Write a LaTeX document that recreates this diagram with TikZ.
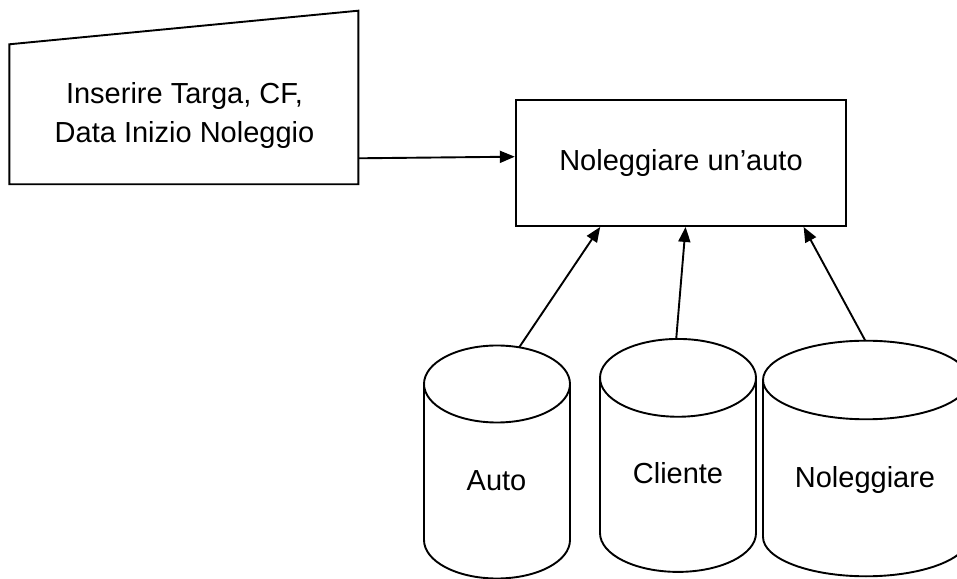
\documentclass[tikz,border=0pt]{standalone}
\usepackage{fontspec}
\setmainfont{Liberation Sans}
\usetikzlibrary{arrows.meta,calc}
\newcommand\dbcyl[5]{% cx, rx, top cy, bottom cy, ry
  \draw (#1-#2,#4) -- (#1-#2,#3) (#1+#2,#3) -- (#1+#2,#4)
    arc[start angle=0,end angle=-180,x radius=#2pt,y radius=#5pt];
  \draw (#1,#3) ellipse[x radius=#2pt,y radius=#5pt];}
\begin{document}
\begin{tikzpicture}[x=1pt,y=1pt,
  line width=1.9pt,
  lbl/.style={font=\fontsize{29}{39}\selectfont, text=black, inner sep=0pt},
  arr/.style={-{Triangle[length=15pt,width=12pt]}},
  procbox/.style={draw, minimum width=330.5pt, minimum height=126pt, lbl}]
\useasboundingbox (0,0) rectangle (957,578);
\clip (0,0) rectangle (957,578);
% manual input
\draw[line join=miter] (9.3,393.7) -- (9.3,533.7) -- (358.3,567.3) -- (358.3,393.7) -- cycle;
\node[lbl, align=center] (inp) at (184.5,462) {Inserire Targa, CF,\\Data Inizio Noleggio};
\coordinate (inR) at (358.3,419.7);
% process
\node[procbox] (proc) at (681,415) {Noleggiare un’auto};
% data stores
\dbcyl{497}{73}{194}{38}{38.5}
\dbcyl{678}{78}{200.15}{45}{38.9}
\dbcyl{866}{103}{198}{41}{39.3}
\node[lbl, anchor=base] (autoL) at (496.5,88) {Auto};
\node[lbl, anchor=base] (clienteL) at (678,94.7) {Cliente};
\node[lbl, anchor=base] (nolL) at (865,90.3) {Noleggiare};
\coordinate (autoT) at (519.2,230.7);
\coordinate (clienteT) at (676.2,239);
\coordinate (nolT) at (865.3,237.3);
% connectors
\draw[arr] (inR) -- ($(proc.west)+(0,6.3)$);
\draw[arr] (autoT) -- ($(proc.south)+(-80.8,0)$);
\draw[arr] (clienteT) -- ($(proc.south)+(4.6,0)$);
\draw[arr] (nolT) -- ($(proc.south)+(122.6,0)$);
\end{tikzpicture}
\end{document}
